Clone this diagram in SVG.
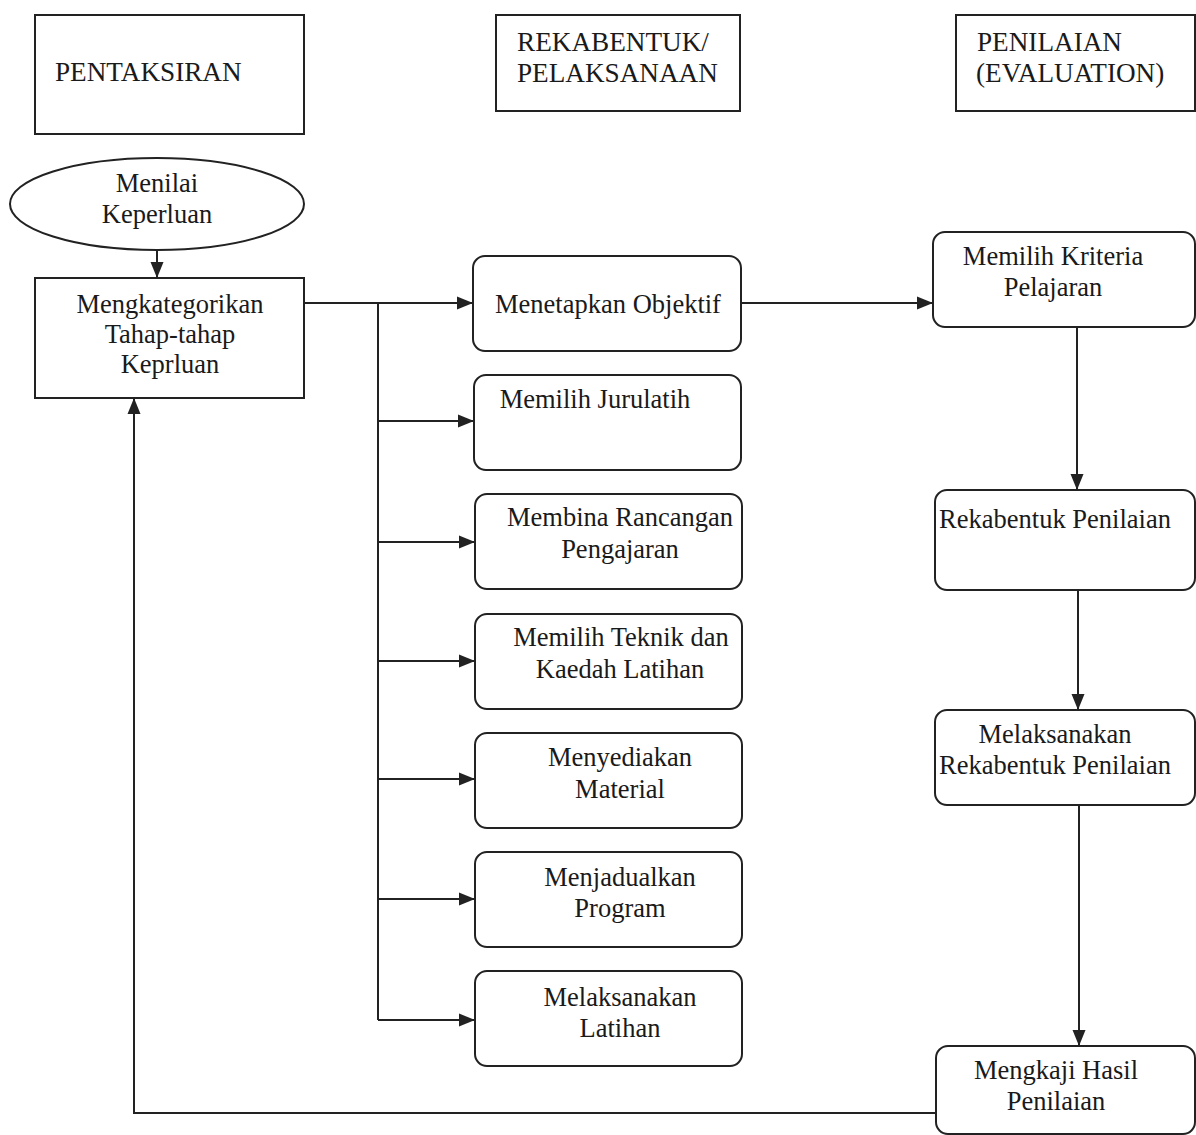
<svg xmlns="http://www.w3.org/2000/svg" width="1196" height="1135" viewBox="0 0 1196 1135">
<style>
.box{fill:#fff;stroke:#222;stroke-width:2}
.t{font-family:"Liberation Serif","Times New Roman",serif;font-size:26.5px;fill:#1a1a1a}
.h{font-size:27.2px}
.c{text-anchor:middle}
.ln{fill:none;stroke:#222;stroke-width:2}
</style>
<defs>
<marker id="ah" markerUnits="userSpaceOnUse" markerWidth="18" markerHeight="16" refX="16" refY="8" orient="auto">
<path d="M0,1.5 L16,8 L0,14.5 Z" fill="#222"/>
</marker>
</defs>
<rect width="1196" height="1135" fill="#fff"/>
<g id="h1"><rect class="box" x="35" y="15" width="269" height="119"/><text class="t h" x="55" y="81">PENTAKSIRAN</text></g>
<g id="h2"><rect class="box" x="496" y="15" width="244" height="96"/><text class="t h" x="517" y="51">REKABENTUK/</text><text class="t h" x="517" y="82">PELAKSANAAN</text></g>
<g id="h3"><rect class="box" x="956" y="15" width="239" height="96"/><text class="t h" x="977" y="51">PENILAIAN</text><text class="t h" x="976" y="82">(EVALUATION)</text></g>
<g id="n_menilai"><ellipse class="box" cx="157" cy="204" rx="147" ry="46"/><text class="t c" x="157" y="192">Menilai</text><text class="t c" x="157" y="223">Keperluan</text></g>
<g id="n_kategori"><rect class="box" x="35" y="278" width="269" height="120"/><text class="t c" x="170" y="313">Mengkategorikan</text><text class="t c" x="170" y="343">Tahap-tahap</text><text class="t c" x="170" y="373">Keprluan</text></g>
<g id="n_objektif"><rect class="box" x="473" y="256" width="268" height="95" rx="12"/><text class="t c" x="608" y="313">Menetapkan Objektif</text></g>
<g id="n_jurulatih"><rect class="box" x="474" y="375" width="267" height="95" rx="12"/><text class="t c" x="595" y="408">Memilih Jurulatih</text></g>
<g id="n_rancangan"><rect class="box" x="475" y="494" width="267" height="95" rx="12"/><text class="t c" x="620" y="526">Membina Rancangan</text><text class="t c" x="620" y="558">Pengajaran</text></g>
<g id="n_teknik"><rect class="box" x="475" y="614" width="267" height="95" rx="12"/><text class="t c" x="621" y="646">Memilih Teknik dan</text><text class="t c" x="620" y="678">Kaedah Latihan</text></g>
<g id="n_material"><rect class="box" x="475" y="733" width="267" height="95" rx="12"/><text class="t c" x="620" y="766">Menyediakan</text><text class="t c" x="620" y="798">Material</text></g>
<g id="n_program"><rect class="box" x="475" y="852" width="267" height="95" rx="12"/><text class="t c" x="620" y="886">Menjadualkan</text><text class="t c" x="620" y="917">Program</text></g>
<g id="n_latihan"><rect class="box" x="475" y="971" width="267" height="95" rx="12"/><text class="t c" x="620" y="1006">Melaksanakan</text><text class="t c" x="620" y="1037">Latihan</text></g>
<g id="n_kriteria"><rect class="box" x="933" y="232" width="262" height="95" rx="12"/><text class="t c" x="1053" y="265">Memilih Kriteria</text><text class="t c" x="1053" y="296">Pelajaran</text></g>
<g id="n_rekabentuk"><rect class="box" x="935" y="490" width="260" height="100" rx="12"/><text class="t c" x="1055" y="528">Rekabentuk Penilaian</text></g>
<g id="n_melaksana"><rect class="box" x="935" y="710" width="260" height="95" rx="12"/><text class="t c" x="1055" y="743">Melaksanakan</text><text class="t c" x="1055" y="774">Rekabentuk Penilaian</text></g>
<g id="n_mengkaji"><rect class="box" x="936" y="1046" width="259" height="88" rx="12"/><text class="t c" x="1056" y="1079">Mengkaji Hasil</text><text class="t c" x="1056" y="1110">Penilaian</text></g>
<g id="connectors">
<path class="ln" d="M157,250 L157,278" marker-end="url(#ah)"/>
<path class="ln" d="M304,303 L473,303" marker-end="url(#ah)"/>
<path class="ln" d="M378,303 L378,1020"/>
<path class="ln" d="M378,421 L474,421" marker-end="url(#ah)"/>
<path class="ln" d="M378,542 L475,542" marker-end="url(#ah)"/>
<path class="ln" d="M378,661 L475,661" marker-end="url(#ah)"/>
<path class="ln" d="M378,779 L475,779" marker-end="url(#ah)"/>
<path class="ln" d="M378,899 L475,899" marker-end="url(#ah)"/>
<path class="ln" d="M378,1020 L475,1020" marker-end="url(#ah)"/>
<path class="ln" d="M741,303 L933,303" marker-end="url(#ah)"/>
<path class="ln" d="M1077,327 L1077,490" marker-end="url(#ah)"/>
<path class="ln" d="M1078,590 L1078,710" marker-end="url(#ah)"/>
<path class="ln" d="M1079,805 L1079,1046" marker-end="url(#ah)"/>
<path class="ln" d="M936,1113 L134,1113 L134,398" marker-end="url(#ah)"/>
</g>
</svg>
